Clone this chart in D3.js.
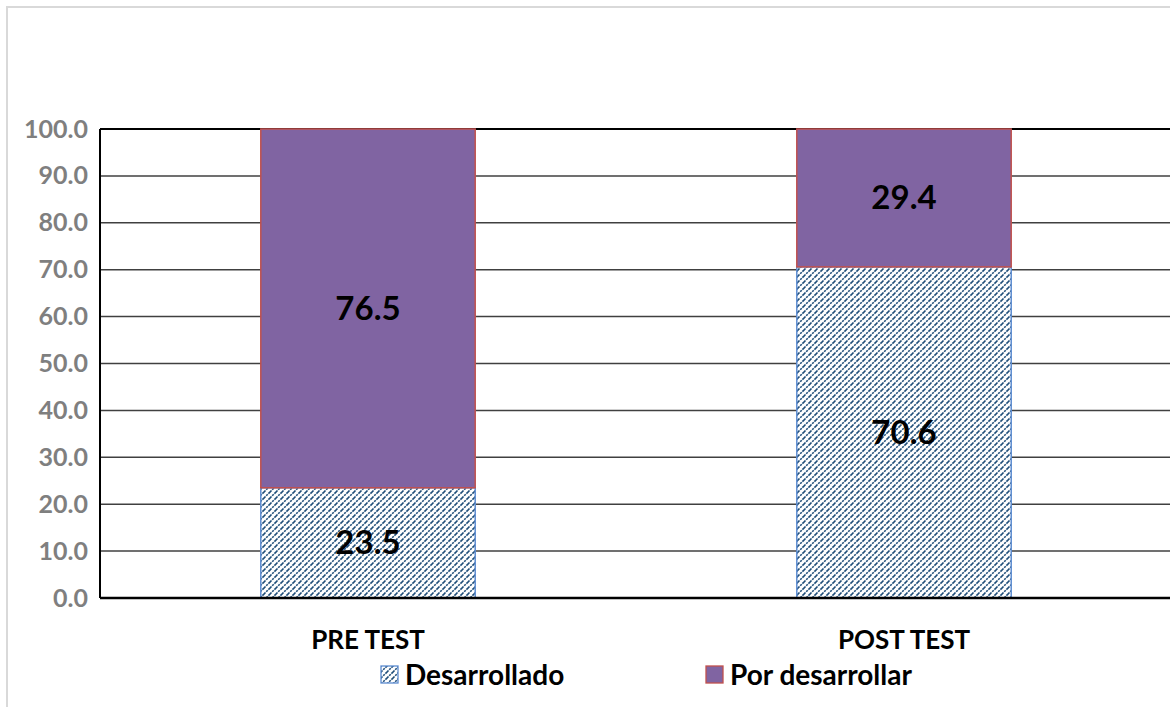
<!DOCTYPE html>
<html>
<head>
<meta charset="utf-8">
<script src="https://cdn.jsdelivr.net/npm/d3@7"></script>
<style>
  body { margin: 0; background: #fff; }
  svg { display: block; font-family: Lato, "Open Sans", sans-serif; font-weight: bold; }
</style>
</head>
<body>
<svg class="graphic"></svg>
<script>
var categories = ["PRE TEST", "POST TEST"];
var desarrollado = [23.5, 70.6];
var porDesarrollar = [76.5, 29.4];
var seriesNames = ["Desarrollado", "Por desarrollar"];
var yTicks = [0, 10, 20, 30, 40, 50, 60, 70, 80, 90, 100];

var width = 1170,
    height = 707,
    plotLeft = 100,
    plotTop = 129,
    plotBottom = 598,
    plotRight = 1172;

var svg = d3.select(".graphic")
    .attr("width", width)
    .attr("height", height);

// hatch pattern for Desarrollado (dotted diagonal stripes)
var defs = svg.append("defs");
var hatch = defs.append("pattern")
    .attr("id", "hatch")
    .attr("patternUnits", "userSpaceOnUse")
    .attr("width", 6)
    .attr("height", 6);
hatch.append("rect").attr("width", 6).attr("height", 6).attr("fill", "#fff");
hatch.append("path")
    .attr("d", "M0,6 L6,0 M-1,1 L1,-1 M5,7 L7,5")
    .attr("stroke", "#1f4e79")
    .attr("stroke-width", 1.6)
    .attr("stroke-dasharray", "2.2,0.9");

// outer chart border
svg.append("rect")
    .attr("x", 7).attr("y", 7)
    .attr("width", width + 10).attr("height", height + 10)
    .attr("fill", "none")
    .attr("stroke", "#d9d9d9")
    .attr("stroke-width", 2);

var x = d3.scaleBand()
    .domain(categories)
    .range([plotLeft, plotRight])
    .paddingInner(0.6)
    .paddingOuter(0.3);

var y = d3.scaleLinear()
    .domain([0, 100])
    .range([plotBottom, plotTop]);

// gridlines
svg.append("g")
    .selectAll("line")
    .data(yTicks.slice(1, -1))
    .enter()
    .append("line")
    .attr("x1", plotLeft).attr("x2", plotRight)
    .attr("y1", function(d) { return y(d); })
    .attr("y2", function(d) { return y(d); })
    .attr("stroke", "#404040")
    .attr("stroke-width", 1.5);

// plot frame: top, left
svg.append("line").attr("x1", plotLeft).attr("x2", plotRight)
    .attr("y1", plotTop).attr("y2", plotTop)
    .attr("stroke", "#000").attr("stroke-width", 2);
svg.append("line").attr("x1", plotLeft).attr("x2", plotLeft)
    .attr("y1", plotTop).attr("y2", plotBottom)
    .attr("stroke", "#000").attr("stroke-width", 2);

// y axis labels
var yAxis = d3.axisLeft(y)
    .tickValues(yTicks)
    .tickSize(0)
    .tickPadding(12)
    .tickFormat(d3.format(".1f"));
var yg = svg.append("g")
    .attr("transform", "translate(" + plotLeft + ",0)")
    .call(yAxis);
yg.select(".domain").remove();
yg.selectAll("text")
    .attr("fill", "#7f7f7f")
    .style("font-size", "25px")
    .style("font-family", "Lato, sans-serif")
    .style("font-weight", "bold");

// stacked bars
var bars = svg.append("g");
bars.selectAll("rect.des")
    .data(categories)
    .enter()
    .append("rect")
    .attr("class", "des")
    .attr("x", function(d) { return x(d); })
    .attr("width", x.bandwidth())
    .attr("y", function(d, i) { return y(desarrollado[i]); })
    .attr("height", function(d, i) { return y(0) - y(desarrollado[i]); })
    .attr("fill", "url(#hatch)")
    .attr("stroke", "#5b8bd0")
    .attr("stroke-width", 1.5);

bars.selectAll("rect.por")
    .data(categories)
    .enter()
    .append("rect")
    .attr("class", "por")
    .attr("x", function(d) { return x(d); })
    .attr("width", x.bandwidth())
    .attr("y", function(d, i) { return y(desarrollado[i] + porDesarrollar[i]); })
    .attr("height", function(d, i) { return y(desarrollado[i]) - y(desarrollado[i] + porDesarrollar[i]); })
    .attr("fill", "#8064a2")
    .attr("stroke", "#c0504d")
    .attr("stroke-width", 1.5);

// x axis line
svg.append("line").attr("x1", plotLeft).attr("x2", plotRight)
    .attr("y1", plotBottom).attr("y2", plotBottom)
    .attr("stroke", "#000").attr("stroke-width", 2.5);

// value labels
svg.selectAll("text.vdes")
    .data(categories)
    .enter()
    .append("text")
    .attr("class", "vdes")
    .attr("x", function(d) { return x(d) + x.bandwidth() / 2; })
    .attr("y", function(d, i) { return y(desarrollado[i] / 2); })
    .attr("dy", "0.35em")
    .attr("text-anchor", "middle")
    .style("font-size", "33px")
    .attr("fill", "#000")
    .text(function(d, i) { return d3.format(".1f")(desarrollado[i]); });

svg.selectAll("text.vpor")
    .data(categories)
    .enter()
    .append("text")
    .attr("class", "vpor")
    .attr("x", function(d) { return x(d) + x.bandwidth() / 2; })
    .attr("y", function(d, i) { return y(desarrollado[i] + porDesarrollar[i] / 2); })
    .attr("dy", "0.35em")
    .attr("text-anchor", "middle")
    .style("font-size", "33px")
    .attr("fill", "#000")
    .text(function(d, i) { return d3.format(".1f")(porDesarrollar[i]); });

// category labels
svg.selectAll("text.cat")
    .data(categories)
    .enter()
    .append("text")
    .attr("class", "cat")
    .attr("x", function(d) { return x(d) + x.bandwidth() / 2; })
    .attr("y", 649)
    .attr("text-anchor", "middle")
    .style("font-size", "26px")
    .attr("fill", "#000")
    .text(function(d) { return d; });

// legend
var legendX = [381, 706];
var legend = svg.selectAll("g.legend")
    .data(seriesNames)
    .enter()
    .append("g")
    .attr("class", "legend")
    .attr("transform", function(d, i) { return "translate(" + legendX[i] + ",666)"; });
legend.append("rect")
    .attr("width", 17).attr("height", 17)
    .attr("fill", function(d, i) { return i === 0 ? "url(#hatch)" : "#8064a2"; })
    .attr("stroke", function(d, i) { return i === 0 ? "#5b8bd0" : "#c0504d"; })
    .attr("stroke-width", 1.3);
legend.append("text")
    .attr("x", 24)
    .attr("y", 19)
    .style("font-size", "28px")
    .attr("fill", "#000")
    .text(function(d) { return d; });
</script>
</body>
</html>
